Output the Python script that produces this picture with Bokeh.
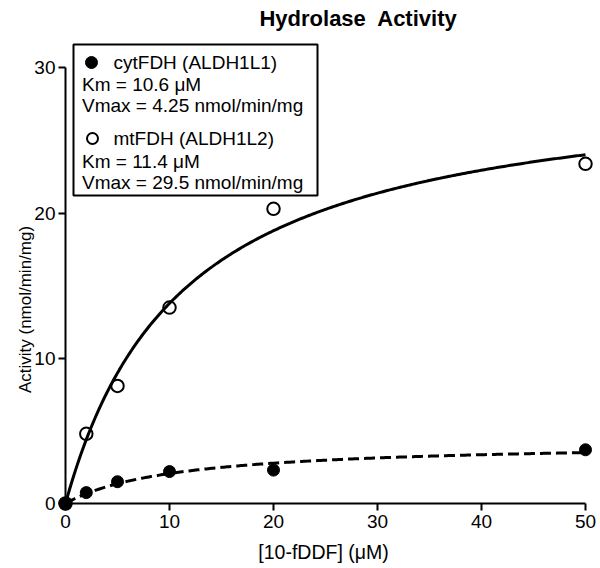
import numpy as np
from bokeh.plotting import figure
from bokeh.models import Range1d, FixedTicker, Label
from bokeh.embed import file_html
from bokeh.resources import INLINE

# ---- data ----
conc = [0, 2, 5, 10, 20, 50]                      # [10-fDDF] (uM)
mt_activity = [0, 4.8, 8.1, 13.5, 20.3, 23.4]     # mtFDH (ALDH1L2), open circles
cyt_activity = [0, 0.75, 1.5, 2.2, 2.3, 3.7]      # cytFDH (ALDH1L1), filled circles
cyt_km, cyt_vmax = 10.6, 4.25
mt_km, mt_vmax = 11.4, 29.5
x_ticks = [0, 10, 20, 30, 40, 50]
y_ticks = [0, 10, 20, 30]

title_text = "Hydrolase\u00a0 Activity"
x_label = "[10-fDDF] (\u03bcM)"
y_label = "Activity (nmol/min/mg)"
legend_lines = [
    "cytFDH (ALDH1L1)",
    "Km = 10.6 \u03bcM",
    "Vmax = 4.25 nmol/min/mg",
    "mtFDH (ALDH1L2)",
    "Km = 11.4 \u03bcM",
    "Vmax = 29.5 nmol/min/mg",
]

# Michaelis-Menten fit curves from the stated parameters
s = np.linspace(0, 50, 300)
mt_fit = mt_vmax * s / (mt_km + s)
cyt_fit = cyt_vmax * s / (cyt_km + s)

FONT = "Liberation Sans"
W, H = 600, 568
X0PX, XSC = 65.0, 10.4        # pixel of x=0, px per unit
Y0PX, YSC = 503.0, 14.517     # pixel of y=0 (from top), px per unit

p = figure(width=W, height=H, output_backend="svg", toolbar_location=None,
           title=None,
           x_range=Range1d(-X0PX / XSC, (W - X0PX) / XSC),
           y_range=Range1d(-(H - Y0PX) / YSC, Y0PX / YSC),
           min_border_left=0, min_border_right=0, min_border_top=0, min_border_bottom=0)
p.outline_line_color = None
p.grid.visible = False
p.background_fill_color = "white"
p.border_fill_color = "white"

for ax in (p.xaxis, p.yaxis):
    ax.fixed_location = 0
    ax.axis_line_width = 2
    ax.axis_line_color = "black"
    ax.major_tick_line_width = 2
    ax.major_tick_line_color = "black"
    ax.major_tick_out = 7
    ax.major_tick_in = 0
    ax.minor_tick_line_color = None
    ax.major_label_text_font = FONT
    ax.major_label_text_font_size = "19px"
    ax.major_label_text_color = "black"
    ax.major_label_standoff = 4
p.xaxis.bounds = (0, 50)
p.yaxis.bounds = (0, 30)
p.yaxis.major_label_standoff = 3
p.xaxis.ticker = FixedTicker(ticks=x_ticks)
p.yaxis.ticker = FixedTicker(ticks=y_ticks)

# fit curves
p.line(s, mt_fit, line_color="black", line_width=3)
p.line(s, cyt_fit, line_color="black", line_width=3, line_dash="11 5")

# data points
p.scatter(conc, cyt_activity, size=12, marker="circle", fill_color="black", line_color="black")
p.scatter(conc, mt_activity, size=12.5, marker="circle", fill_color=None,
          line_color="black", line_width=2)

def dx(px):
    return (px - X0PX) / XSC

def dy(py):
    return (Y0PX - py) / YSC

# legend box
p.quad(left=[dx(73)], right=[dx(317)], top=[dy(44)], bottom=[dy(195)],
       fill_color=None, line_color="black", line_width=2)
p.scatter([dx(91)], [dy(62)], size=12, marker="circle", fill_color="black", line_color="black")
p.scatter([dx(92)], [dy(138)], size=11, marker="circle", fill_color=None,
          line_color="black", line_width=2)

line_y = [62, 84, 104.5, 138, 160.5, 181.5]
line_x = [113, 81.5, 81.5, 113, 81.5, 81.5]
for txt, lx, ly in zip(legend_lines, line_x, line_y):
    p.add_layout(Label(x=dx(lx), y=dy(ly), text=txt, text_font=FONT, text_font_size="19px",
                       text_color="black", text_baseline="middle", text_align="left"))

# title and axis labels
p.add_layout(Label(x=dx(358), y=dy(17.5), text=title_text, text_font=FONT,
                   text_font_size="22px", text_font_style="bold", text_color="black",
                   text_baseline="middle", text_align="center"))
p.add_layout(Label(x=dx(323), y=dy(551), text=x_label, text_font=FONT,
                   text_font_size="19.5px", text_color="black",
                   text_baseline="middle", text_align="center"))
p.add_layout(Label(x=dx(25), y=dy(309), text=y_label, text_font=FONT,
                   text_font_size="17px", text_color="black", angle=np.pi / 2,
                   text_baseline="middle", text_align="center"))

open("out.html", "w").write(file_html(p, INLINE))
